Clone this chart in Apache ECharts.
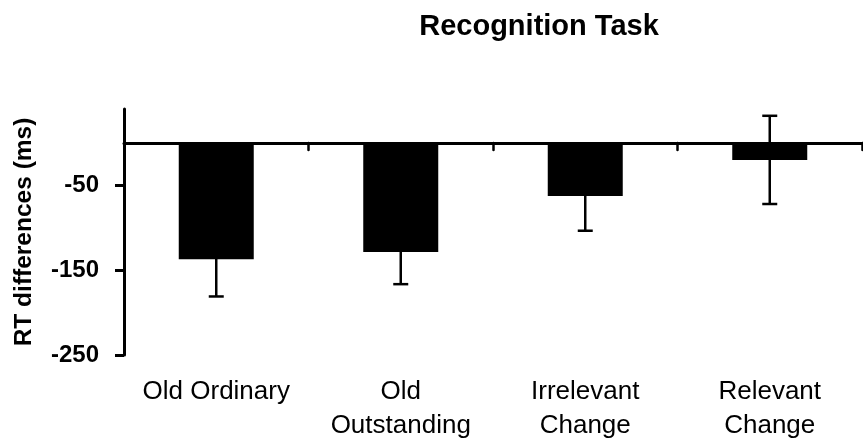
<!DOCTYPE html>
<html>
<head>
<meta charset="utf-8">
<script src="https://cdn.jsdelivr.net/npm/echarts@6/dist/echarts.min.js"></script>
<style>html,body{margin:0;padding:0;background:#fff}#c{width:863px;height:445px}</style>
</head>
<body>
<div id="c"></div>
<script>
const categories = ['Old Ordinary', 'Old\nOutstanding', 'Irrelevant\nChange', 'Relevant\nChange'];
const means = [-137, -128.5, -62.5, -20];
const errors = [44, 38, 41, 52];
const yTicks = [-250, -150, -50];
const titleText = 'Recognition Task';
const yTitle = 'RT differences (ms)';

const FONT = "'Liberation Sans', Arial, sans-serif";
const chart = echarts.init(document.getElementById('c'));

const errData = means.map((m, i) => [i, m - errors[i], m + errors[i]]);

chart.setOption({
  animation: false,
  title: {
    text: titleText,
    left: 534,
    top: 7,
    textAlign: 'center',
    textStyle: { fontFamily: FONT, fontWeight: 'bold', fontSize: 29, color: '#000' }
  },
  grid: { left: 124, right: 1, top: 109, bottom: 90, containLabel: false },
  xAxis: [
    {
      type: 'category',
      data: categories,
      position: 'bottom',
      axisLine: { onZero: true, lineStyle: { color: '#000', width: 3 } },
      axisTick: { show: true, length: 7, lineStyle: { color: '#000', width: 2.5, cap: 'round' } },
      axisLabel: { show: false },
      splitLine: { show: false }
    },
    {
      type: 'category',
      data: categories,
      position: 'bottom',
      axisLine: { show: false, onZero: false },
      axisTick: { show: false },
      axisLabel: {
        show: true, margin: 20, interval: 0,
        fontFamily: FONT, fontSize: 26, lineHeight: 34, color: '#000', align: 'center'
      },
      splitLine: { show: false }
    }
  ],
  yAxis: {
    type: 'value',
    min: -250,
    max: 40,
    name: yTitle,
    nameLocation: 'middle',
    nameGap: 87,
    nameRotate: 90,
    nameTextStyle: { fontFamily: FONT, fontWeight: 'bold', fontSize: 24.5, color: '#000' },
    axisLine: { show: true, lineStyle: { color: '#000', width: 3 } },
    axisTick: { show: true, length: 9, customValues: yTicks, lineStyle: { color: '#000', width: 3 } },
    axisLabel: {
      show: true, margin: 25, customValues: yTicks,
      fontFamily: FONT, fontWeight: 'bold', fontSize: 24, color: '#000'
    },
    splitLine: { show: false }
  },
  series: [
    {
      type: 'bar',
      data: means,
      xAxisIndex: 0,
      barWidth: 75,
      itemStyle: { color: '#000' },
      z: 2
    },
    {
      type: 'custom',
      xAxisIndex: 0,
      data: errData,
      z: 5,
      renderItem: function (params, api) {
        const x = api.value(0);
        const lo = api.coord([x, api.value(1)]);
        const hi = api.coord([x, api.value(2)]);
        const hw = 7.5;
        const style = { stroke: '#000', lineWidth: 2.5 };
        return {
          type: 'group',
          children: [
            { type: 'line', shape: { x1: lo[0], y1: lo[1], x2: hi[0], y2: hi[1] }, style: style },
            { type: 'line', shape: { x1: lo[0] - hw, y1: lo[1], x2: lo[0] + hw, y2: lo[1] }, style: style },
            { type: 'line', shape: { x1: hi[0] - hw, y1: hi[1], x2: hi[0] + hw, y2: hi[1] }, style: style }
          ]
        };
      }
    }
  ]
});
</script>
</body>
</html>
